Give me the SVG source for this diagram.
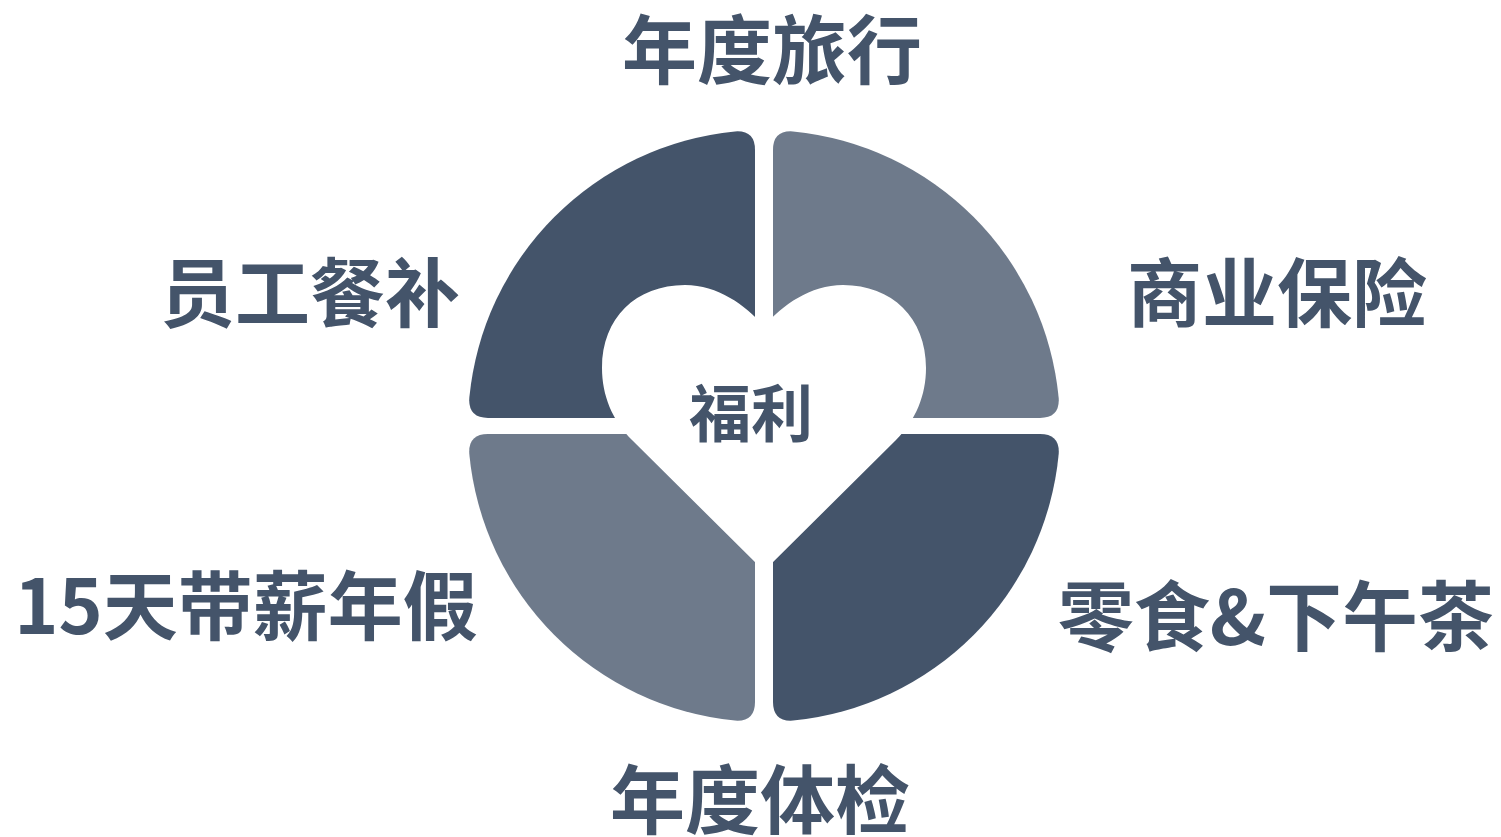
<svg xmlns="http://www.w3.org/2000/svg" width="1501" height="837" viewBox="0 0 1501 837">
<style>
.dark{fill:#44546A}
.light{fill:#6E7A8B}
.lbl{font-family:"Noto Sans CJK SC","Microsoft YaHei",sans-serif;font-weight:700;font-size:75px;fill:#44546A;text-anchor:middle}
.ctr{font-size:62px}
</style>
<rect width="1501" height="837" fill="#FFFFFF"/>
<g id="segments">
<g id="seg-tl"><path class="dark" d="M755,150 L755,418 L488,418 Q468,418 469.3,398 A296,296 0 0 1 735,131.4 Q755,130 755,150 Z"/></g>
<g id="seg-tr"><path class="light" d="M773,150 L773,418 L1040,418 Q1060,418 1058.7,398 A296,296 0 0 0 793,131.4 Q773,130 773,150 Z"/></g>
<g id="seg-bl"><path class="light" d="M755,702 L755,434 L488,434 Q468,434 469.3,454 A296,296 0 0 0 735,720.6 Q755,722 755,702 Z"/></g>
<g id="seg-br"><path class="dark" d="M773,702 L773,434 L1040,434 Q1060,434 1058.7,454 A296,296 0 0 1 793,720.6 Q773,722 773,702 Z"/></g>
</g>
<g id="heart">
<path fill="#FFFFFF" d="M764,326 C745,305 718,285 685,285 C636,285 602,318 602,368 C602,395 612,420 632,440 L764,571 L896,440 C916,420 926,395 926,368 C926,318 892,285 843,285 C810,285 783,305 764,326 Z"/>
<text class="lbl ctr" x="751" y="437">福利</text>
</g>
<g id="label-top"><text class="lbl" x="772" y="78">年度旅行</text></g>
<g id="label-tr"><text class="lbl" x="1277" y="321">商业保险</text></g>
<g id="label-tl"><text class="lbl" x="310" y="321">员工餐补</text></g>
<g id="label-bl"><text class="lbl" x="246" y="634">15天带薪年假</text></g>
<g id="label-br"><text class="lbl" x="1276" y="645" style="font-size:76px">零食&amp;下午茶</text></g>
<g id="label-bottom"><text class="lbl" x="760" y="828">年度体检</text></g>
</svg>
